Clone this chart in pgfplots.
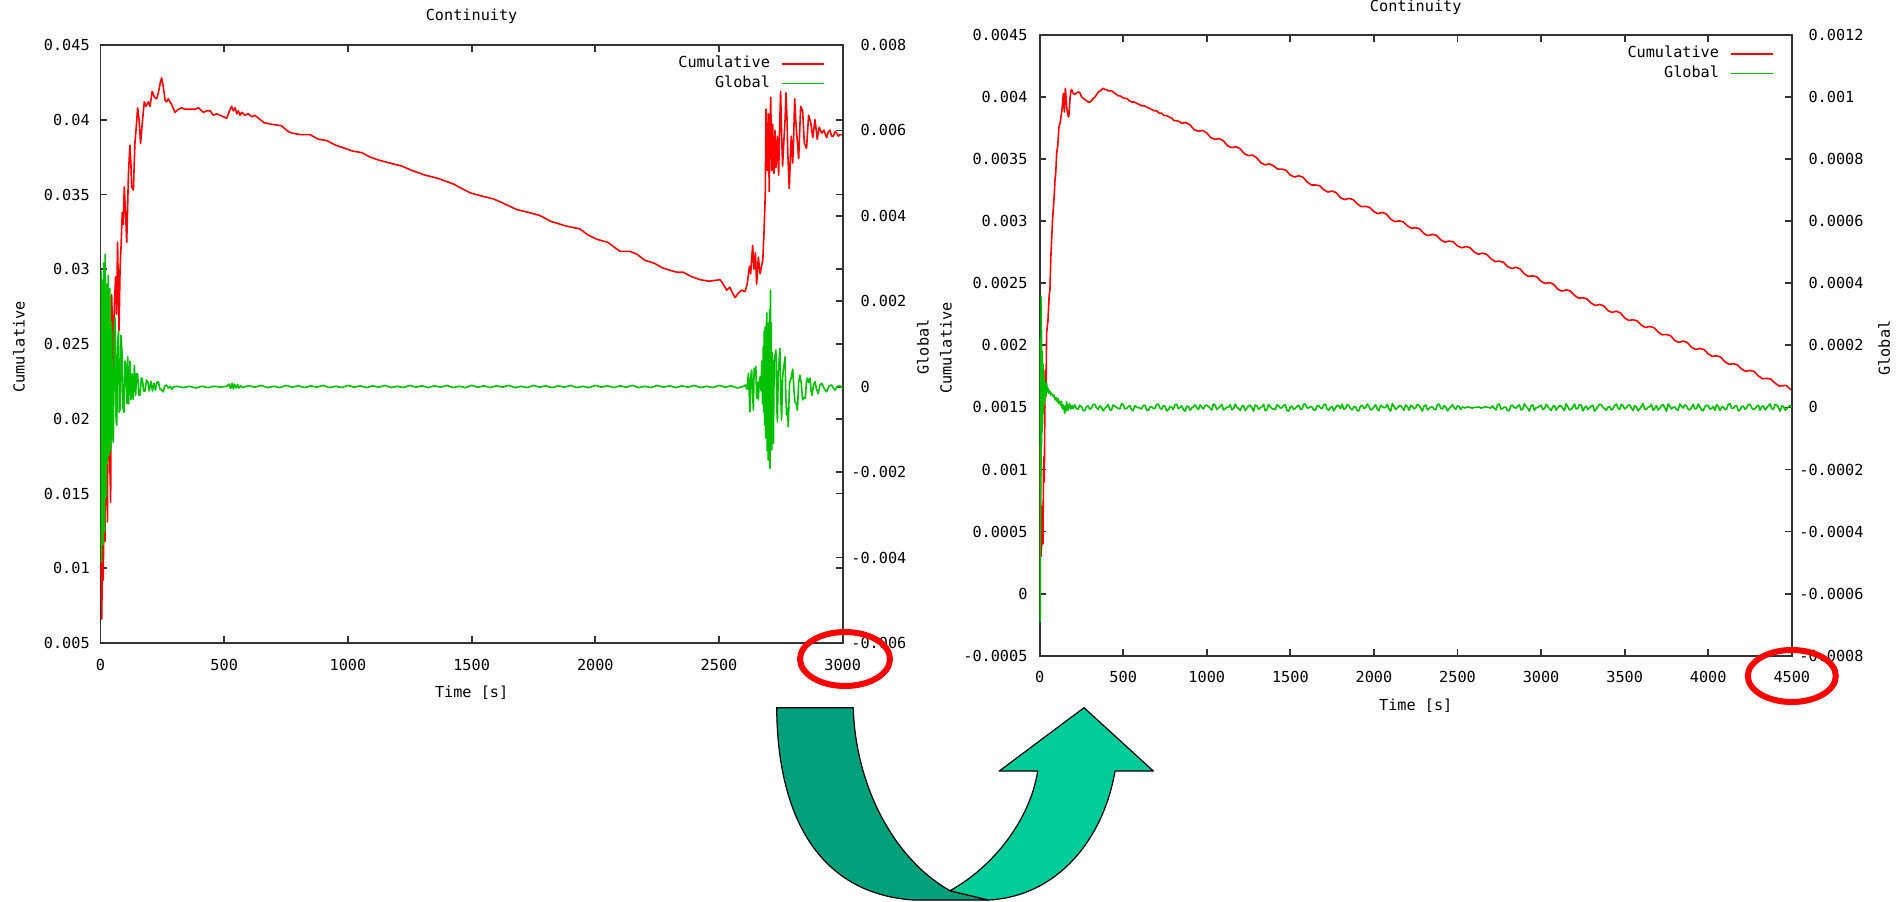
\documentclass[border=0pt]{standalone}
\usepackage{fontspec}
\setmainfont{DejaVu Sans Mono}
\usepackage{pgfplots}
\pgfplotsset{compat=1.18}

\newcommand{\gp}{\fontsize{7.6pt}{9pt}\selectfont}
\definecolor{gpred}{RGB}{255,0,0}
\definecolor{gpgreen}{RGB}{0,192,0}
\definecolor{arrowdark}{RGB}{0,160,122}
\definecolor{arrowlight}{RGB}{0,204,153}

\pgfplotsset{
  gnu/.style={
    scale only axis,
    font=\gp,
    axis line style={black!80, line width=0.9pt},
    tick style={black!80, line width=0.9pt},
    major tick length=3.4pt,
    tick align=inside,
    scaled ticks=false,
    xticklabel style={anchor=center, inner sep=0pt},
  },
  gnuleg/.style={
    legend cell align=right,
    legend plot pos=right,
    legend image code/.code={\draw[##1] (0pt,0pt) -- (21pt,0pt);},
    legend style={draw=none, fill=none, at={(1,1)}, anchor=north east,
      xshift=-9pt, yshift=-5.8pt, font=\gp, row sep=2.6pt, column sep=5.6pt,
      inner sep=0pt, outer sep=0pt,
      nodes={inner sep=0pt, text height=5.6pt, text depth=1.6pt}},
  },
  cum/.style={gpred, line width=0.8pt, line join=round},
  glob/.style={gpgreen, line width=0.8pt, line join=round},
}

\begin{document}
\begin{tikzpicture}
\useasboundingbox (0,0) rectangle (952pt,450.5pt);

% ---------------- left chart: 0..3000 s ----------------
\begin{axis}[gnu,
  at={(50.25pt,129pt)}, anchor=south west,
  width=371.1pt, height=299pt,
  xmin=0, xmax=3000, ymin=0.005, ymax=0.045,
  xtick={0,500,1000,1500,2000,2500,3000},
  xticklabels={0,500,1000,1500,2000,2500,3000},
  ytick={0.005,0.01,0.015,0.02,0.025,0.03,0.035,0.04,0.045},
  yticklabels={0.005,0.01,0.015,0.02,0.025,0.03,0.035,0.04,0.045},
  xticklabel style={yshift=-11pt},
  yticklabel style={anchor=east, inner sep=0pt, xshift=-5.2pt},
  title=Continuity, title style={at={(0.5,1)}, anchor=center, yshift=8.15pt},
  xlabel={Time [s]}, xlabel style={at={(0.5,0)}, anchor=center, yshift=-24.85pt},
  ylabel=Cumulative, ylabel style={at={(-0.1098,0.495)}, anchor=center},
]
\addplot[cum] coordinates {
(0,0.0125) (3,0.0100) (5,0.0066) (7,0.0095) (9,0.0128) (11,0.0092) (14,0.0140) (18,0.0118)
(22,0.0214) (25,0.0175) (28,0.0131) (32,0.0248) (36,0.0185) (41,0.0144) (45,0.0283) (48,0.0265)
(52,0.0230) (56,0.0275) (61,0.0295) (65,0.0270) (69,0.0318) (75,0.0259) (79,0.0300) (83,0.0315)
(88,0.0338) (92,0.0330) (96,0.0355) (102,0.0335) (106,0.0318) (110,0.0344) (113,0.0364) (119,0.0383)
(123,0.0370) (126,0.0355) (133,0.0353) (139,0.0384) (146,0.0398) (150,0.0408) (156,0.0400) (162,0.0384)
(169,0.0398) (177,0.0412) (184,0.0409) (193,0.0412) (200,0.0409) (209,0.0419) (218,0.0415) (227,0.0414)
(234,0.0418) (242,0.0425) (247,0.0428) (254,0.0422) (261,0.0413) (267,0.0412) (274,0.0414) (281,0.0412)
(288,0.0410) (301,0.0405) (315,0.0407) (328,0.0408) (342,0.0407) (355,0.0407) (368,0.0407) (382,0.0407)
(396,0.0408) (409,0.0406) (416,0.0405) (430,0.0406) (443,0.0406) (456,0.0403) (470,0.0404) (483,0.0403)
(497,0.0402) (510,0.0401) (517,0.0404) (524,0.0407) (530,0.0409) (537,0.0406) (544,0.0408) (551,0.0404)
(557,0.0406) (564,0.0403) (571,0.0405) (584,0.0403) (597,0.0404) (611,0.0402) (624,0.0403) (661,0.0398)
(690,0.0397) (731,0.0396) (760,0.0392) (777,0.0391) (810,0.0390) (847,0.0390) (880,0.0387) (916,0.0386)
(950,0.0383) (986,0.0381) (1020,0.0379) (1056,0.0378) (1090,0.0375) (1125,0.0373) (1170,0.0371) (1218,0.0369)
(1260,0.0366) (1311,0.0363) (1360,0.0361) (1427,0.0357) (1460,0.0354) (1496,0.0351) (1540,0.0349) (1589,0.0347)
(1630,0.0344) (1682,0.0340) (1730,0.0338) (1775,0.0336) (1821,0.0332) (1880,0.0329) (1937,0.0327) (1970,0.0323)
(2007,0.0320) (2050,0.0318) (2100,0.0312) (2140,0.0312) (2169,0.0310) (2200,0.0306) (2239,0.0304) (2270,0.0301)
(2308,0.0299) (2330,0.0298) (2355,0.0298) (2390,0.0295) (2424,0.0293) (2460,0.0292) (2504,0.0293) (2517,0.0290)
(2531,0.0286) (2544,0.0288) (2555,0.0284) (2565,0.0281) (2578,0.0284) (2592,0.0286) (2605,0.0285) (2614,0.0290)
(2623,0.0302) (2628,0.0297) (2636,0.0316) (2641,0.0300) (2647,0.0311) (2652,0.0290) (2659,0.0308) (2666,0.0297)
(2672,0.0302) (2677,0.0306) (2682,0.0325) (2687,0.0350) (2690,0.0407) (2693,0.0370) (2695,0.0366) (2699,0.0404)
(2703,0.0352) (2706,0.0395) (2709,0.0415) (2713,0.0366) (2717,0.0397) (2720,0.0370) (2722,0.0364) (2726,0.0393)
(2730,0.0368) (2736,0.0389) (2741,0.0363) (2745,0.0395) (2749,0.0419) (2753,0.0390) (2757,0.0369) (2762,0.0385)
(2767,0.0400) (2771,0.0418) (2775,0.0400) (2778,0.0378) (2784,0.0354) (2788,0.0372) (2792,0.0389) (2798,0.0371)
(2802,0.0390) (2806,0.0414) (2810,0.0400) (2814,0.0391) (2822,0.0374) (2830,0.0409) (2838,0.0406) (2845,0.0384)
(2854,0.0381) (2862,0.0403) (2871,0.0398) (2879,0.0388) (2888,0.0400) (2897,0.0387) (2905,0.0395) (2915,0.0391)
(2924,0.0393) (2935,0.0388) (2942,0.0392) (2949,0.0393) (2955,0.0389) (2962,0.0389) (2969,0.0392) (2976,0.0391)
(2982,0.0389) (2989,0.0390) (3000,0.0390)
};
\end{axis}

\begin{axis}[gnu, gnuleg,
  at={(50.25pt,129pt)}, anchor=south west,
  width=371.1pt, height=299pt,
  xmin=0, xmax=3000, ymin=-0.006, ymax=0.008,
  hide x axis, axis y line*=right, tick align=inside,
  ytick={-0.006,-0.004,-0.002,0,0.002,0.004,0.006,0.008},
  yticklabels={-0.006,-0.004,-0.002,\hphantom{-}0,\hphantom{-}0.002,\hphantom{-}0.004,\hphantom{-}0.006,\hphantom{-}0.008},
  yticklabel style={anchor=west, inner sep=0pt, xshift=4.15pt},
  ylabel=Global, ylabel style={at={(1.1082,0.495)}, anchor=center},
]
\addlegendimage{cum}
\addlegendentry{Cumulative}
\addplot[glob] coordinates {
(0,0.0008) (2,0.0027) (4,-0.0041) (7,0.0025) (10,-0.0037) (13,0.0029) (16,-0.0034) (19,0.0031)
(22,-0.0026) (25,0.0024) (28,-0.0018) (31,0.0026) (35,-0.0016) (38,0.0023) (42,-0.0015) (45,0.0015)
(49,-0.0012) (52,-0.0013) (56,0.0012) (59,0.0016) (63,-0.0008) (66,-0.0009) (69,0.0010) (73,0.0013)
(76,-0.0006) (80,-0.0005) (83,0.0012) (87,0.0008) (91,-0.0005) (95,-0.0006) (99,0.0006) (103,0.0005)
(107,-0.0004) (110,0.0007) (114,-0.0004) (119,0.0006) (123,-0.0003) (128,0.0003) (132,-0.0003) (137,0.0005)
(142,-0.0002) (146,0.0003) (150,0.0003) (155,-0.0002) (160,-0.0002) (165,0.0002) (169,0.0002) (174,-0.0001)
(180,-0.0001) (186,0.00016) (192,0.0001) (197,-0.0001) (204,0.00012) (210,-0.0001) (216,0.00008) (222,-0.00008)
(228,0.0001) (234,0.00012) (240,-0.00005) (247,-0.00008) (254,-0.00012) (260,0.00002) (267,0.00004) (274,-0.00003)
(282,0.00001) (288,-0.00006) (296,0) (310,1e-5) (335,-2e-5) (360,1e-5) (385,-3e-5) (410,1e-5)
(435,-2e-5) (460,1e-5) (485,-1e-5) (510,1e-5) (520,6e-5) (526,-4e-5) (532,8e-5) (537,-5e-5)
(542,6e-5) (548,-3e-5) (554,5e-5) (560,-3e-5) (567,2e-5) (575,-2e-5) (590,1e-5)
(600,2e-5) (625,-1e-5) (650,3e-5) (675,-2e-5) (700,1e-5) (725,-2e-5) (750,3e-5) (775,-1e-5)
(800,2e-5) (825,-2e-5) (850,2e-5) (875,-1e-5) (900,3e-5) (925,-2e-5) (950,1e-5) (975,-2e-5)
(1000,3e-5) (1025,-1e-5) (1050,2e-5) (1075,-2e-5) (1100,2e-5) (1125,-1e-5) (1150,3e-5) (1175,-2e-5)
(1200,1e-5) (1225,-2e-5) (1250,3e-5) (1275,-1e-5) (1300,2e-5) (1325,-2e-5) (1350,2e-5) (1375,-1e-5)
(1400,3e-5) (1425,-2e-5) (1450,1e-5) (1475,-2e-5) (1500,3e-5) (1525,-1e-5) (1550,2e-5) (1575,-2e-5)
(1600,2e-5) (1625,-1e-5) (1650,3e-5) (1675,-2e-5) (1700,1e-5) (1725,-2e-5) (1750,3e-5) (1775,-1e-5)
(1800,2e-5) (1825,-2e-5) (1850,2e-5) (1875,-1e-5) (1900,3e-5) (1925,-2e-5) (1950,1e-5) (1975,-2e-5)
(2000,3e-5) (2025,-1e-5) (2050,2e-5) (2075,-2e-5) (2100,2e-5) (2125,-1e-5) (2150,3e-5) (2175,-2e-5)
(2200,1e-5) (2225,-2e-5) (2250,3e-5) (2275,-1e-5) (2300,2e-5) (2325,-2e-5) (2350,2e-5) (2375,-1e-5)
(2400,3e-5) (2425,-2e-5) (2450,1e-5) (2475,-2e-5) (2500,3e-5) (2525,-1e-5) (2550,2e-5) (2575,-3e-5)
(2600,1e-5) (2607,0.00004) (2613,-0.00006) (2619,0.00031) (2622,-0.00016) (2625,-0.00059) (2628,0.00020) (2632,0.00039)
(2635,-0.00012) (2639,-0.00055) (2642,0.00043) (2645,0.00025) (2649,0.00047) (2652,-0.00027) (2656,0.00010) (2659,-0.00031)
(2663,0.00015) (2666,0.00023) (2670,-0.00010) (2673,0.00060) (2676,-0.00040) (2679,0.00094) (2681,-0.00060) (2683,0.00130)
(2685,-0.00090) (2687,0.00140) (2689,-0.00120) (2691,0.00120) (2693,0.00173) (2695,-0.00150) (2697,0.00100) (2699,-0.00172)
(2701,0.00150) (2703,-0.00130) (2705,0.00180) (2706,-0.00191) (2708,0.00226) (2709,-0.00100) (2711,0.00150) (2713,-0.00148)
(2715,0.00080) (2717,-0.00090) (2720,-0.00133) (2723,0.00060) (2726,0.00070) (2730,0.00086) (2733,-0.00040) (2736,-0.00082)
(2740,0.00050) (2743,0.00060) (2746,0.00090) (2750,-0.00030) (2753,-0.00078) (2757,0.00020) (2760,0.00040) (2764,0.00055)
(2767,0.00070) (2770,-0.00020) (2773,-0.00066) (2777,-0.00050) (2780,-0.00094) (2785,0.00010) (2790,0.00016) (2794,0.00030)
(2798,0.00041) (2803,-0.00010) (2807,-0.00035) (2812,-0.00040) (2817,-0.00055) (2822,0.00010) (2827,0.00027) (2832,0.00010)
(2838,-0.00031) (2844,-0.00025) (2849,-0.00027) (2853,0.00010) (2857,0.00020) (2862,0.00010) (2868,0.00020) (2872,-0.00010)
(2876,-0.00020) (2882,0.00005) (2888,0.00012) (2894,-0.00005) (2901,-0.00016) (2908,0.00004) (2915,0.00008) (2925,-0.00004)
(2935,-0.00012) (2945,0.00002) (2955,0.00004) (2962,-0.00003) (2969,-0.00008) (2979,0.00001) (2989,0.00002) (2995,-0.00001)
(3000,0)
};
\addlegendentry{Global}
\end{axis}

% ---------------- right chart: 0..4500 s ----------------
\begin{axis}[gnu,
  at={(519.8pt,122.65pt)}, anchor=south west,
  width=376.1pt, height=310.35pt,
  xmin=0, xmax=4500, ymin=-0.0005, ymax=0.0045,
  xtick={0,500,1000,1500,2000,2500,3000,3500,4000,4500},
  xticklabels={0,500,1000,1500,2000,2500,3000,3500,4000,4500},
  ytick={-0.0005,0,0.0005,0.001,0.0015,0.002,0.0025,0.003,0.0035,0.004,0.0045},
  yticklabels={-0.0005,0,0.0005,0.001,0.0015,0.002,0.0025,0.003,0.0035,0.004,0.0045},
  xticklabel style={yshift=-10.5pt},
  yticklabel style={anchor=east, inner sep=0pt, xshift=-5.9pt},
  title=Continuity, title style={at={(0.5,1)}, anchor=center, yshift=7.75pt},
  xlabel={Time [s]}, xlabel style={at={(0.5,0)}, anchor=center, yshift=-25.15pt},
  ylabel=Cumulative, ylabel style={at={(-0.1244,0.4957)}, anchor=center},
]
\addplot[cum] coordinates {
(0,0.0012) (5,0.0009) (10,0.0003) (16,0.0007) (20,0.0004) (24,0.0011) (28,0.0009) (33,0.0018)
(38,0.0016) (42,0.0021) (50,0.0022) (57,0.0024) (62,0.00245) (67,0.0027) (72,0.00285) (77,0.0030)
(82,0.0031) (87,0.0032) (92,0.00333) (97,0.0034) (102,0.00355) (108,0.0036) (116,0.00376) (124,0.0038)
(132,0.00388) (138,0.00395) (142,0.00403) (145,0.00395) (148,0.00388) (151,0.0040) (154,0.00407) (158,0.0040)
(162,0.00392) (168,0.00386) (174,0.00384) (178,0.0039) (182,0.00399) (187,0.00405) (192,0.00406) (197,0.00404)
(202,0.00403) (210,0.00402) (218,0.00403) (228,0.00404) (238,0.00404) (245,0.00402) (252,0.0040) (262,0.00399)
(271,0.00398) (281,0.00397) (291,0.00396) (301,0.00396) (311,0.00397) (321,0.00399) (331,0.0040) (341,0.00402)
(351,0.00404) (361,0.00405) (371,0.00406) (381,0.00407) (391,0.00406) (401,0.00406) (411,0.00405) (421,0.00405)
(431,0.00405) (441,0.00404) (451,0.00403) (461,0.00402) (471,0.00401) (481,0.00401) (491,0.0040) (506,0.00399)
(521,0.00399) (536,0.00397) (551,0.00396) (566,0.00396) (581,0.00395) (596,0.00394) (611,0.00393) (626,0.00393)
(640,0.00392) (655,0.00391) (670,0.0039) (685,0.00389) (700,0.00389) (715,0.00387) (730,0.00387) (745,0.00385)
(760,0.00385) (775,0.00384) (790,0.00383) (805,0.00381) (820,0.00381) (840,0.0038)
(850,0.003789) (875,0.003795) (900,0.003775) (925,0.003737) (950,0.003725) (975,0.003731)
(1000,0.003711) (1025,0.003672) (1050,0.003659) (1075,0.003666) (1100,0.003647) (1125,0.003607)
(1150,0.003592) (1175,0.003601) (1200,0.003583) (1225,0.003543) (1250,0.003528) (1275,0.003532)
(1300,0.003509) (1325,0.003469) (1350,0.003454) (1375,0.003463) (1400,0.003445) (1425,0.003420)
(1450,0.003420) (1475,0.003409) (1500,0.003371) (1525,0.003356) (1550,0.003366) (1575,0.003355)
(1600,0.003317) (1625,0.003292) (1650,0.003292) (1675,0.003286) (1700,0.003253) (1725,0.003235)
(1750,0.003243) (1775,0.003229) (1800,0.003189) (1825,0.003174) (1850,0.003184) (1875,0.003175)
(1900,0.003140) (1925,0.003117) (1950,0.003120) (1975,0.003111) (2000,0.003076) (2025,0.003061)
(2050,0.003071) (2075,0.003057) (2100,0.003017) (2125,0.002997) (2150,0.003002) (2175,0.002996)
(2200,0.002963) (2225,0.002943) (2250,0.002948) (2275,0.002937) (2300,0.002899) (2325,0.002884)
(2350,0.002894) (2375,0.002885) (2400,0.002850) (2425,0.002832) (2450,0.002840) (2475,0.002834)
(2500,0.002801) (2525,0.002786) (2550,0.002796) (2575,0.002787) (2600,0.002752) (2625,0.002734)
(2650,0.002742) (2675,0.002733) (2700,0.002698) (2725,0.002675) (2750,0.002678) (2775,0.002669)
(2800,0.002634) (2825,0.002619) (2850,0.002629) (2875,0.002615) (2900,0.002575) (2925,0.002555)
(2950,0.002560) (2975,0.002551) (3000,0.002516) (3025,0.002498) (3050,0.002506) (3075,0.002492)
(3100,0.002452) (3125,0.002437) (3150,0.002447) (3175,0.002438) (3200,0.002403) (3225,0.002380)
(3250,0.002383) (3275,0.002374) (3300,0.002339) (3325,0.002321) (3350,0.002329) (3375,0.002318)
(3400,0.002280) (3425,0.002265) (3450,0.002275) (3475,0.002261) (3500,0.002221) (3525,0.002201)
(3550,0.002206) (3575,0.002197) (3600,0.002162) (3625,0.002144) (3650,0.002152) (3675,0.002143)
(3700,0.002108) (3725,0.002085) (3750,0.002088) (3775,0.002077) (3800,0.002039) (3825,0.002024)
(3850,0.002034) (3875,0.002023) (3900,0.001985) (3925,0.001967) (3950,0.001975) (3975,0.001966)
(4000,0.001931) (4025,0.001911) (4050,0.001916) (4075,0.001905) (4100,0.001867) (4125,0.001847)
(4150,0.001852) (4175,0.001843) (4200,0.001808) (4225,0.001790) (4250,0.001798) (4275,0.001789)
(4300,0.001754) (4325,0.001731) (4350,0.001734) (4375,0.001728) (4400,0.001695) (4425,0.001672)
(4450,0.001675) (4465,0.001678) (4480,0.00166) (4500,0.001638)
};
\end{axis}

\begin{axis}[gnu, gnuleg,
  at={(519.8pt,122.65pt)}, anchor=south west,
  width=376.1pt, height=310.35pt,
  xmin=0, xmax=4500, ymin=-0.0008, ymax=0.0012,
  hide x axis, axis y line*=right, tick align=inside,
  ytick={-0.0008,-0.0006,-0.0004,-0.0002,0,0.0002,0.0004,0.0006,0.0008,0.001,0.0012},
  yticklabels={-0.0008,-0.0006,-0.0004,-0.0002,\hphantom{-}0,\hphantom{-}0.0002,\hphantom{-}0.0004,\hphantom{-}0.0006,\hphantom{-}0.0008,\hphantom{-}0.001,\hphantom{-}0.0012},
  yticklabel style={anchor=west, inner sep=0pt, xshift=3.6pt},
  ylabel=Global, ylabel style={at={(1.1226,0.4957)}, anchor=center},
]
\addlegendimage{cum}
\addlegendentry{Cumulative}
\addplot[glob] coordinates {
(0,0) (1,0.00015) (2,-0.00035) (3,0.00022) (4,-0.00069) (5,0.0001) (6,-0.0004) (8,0.00012)
(9,-0.00022) (10,0.000357) (11,-0.00012) (12,0.00025) (14,-0.00008) (16,0.00018) (18,-0.00005) (20,0.00014)
(22,-0.00002) (24,0.00011) (26,0.00001) (28,0.00009) (30,0.00002) (33,0.00008) (36,0.00003) (39,0.00007)
(42,0.000078) (46,0.00005) (50,0.000062) (54,0.000046) (58,0.000055) (62,0.00005) (66,0.00004) (70,0.000046)
(74,0.000043) (78,0.00004) (82,0.000034) (86,0.00004) (90,0.00003) (94,0.000024) (98,0.000032) (102,0.000024)
(106,0.000018) (110,0.000029) (114,0.000013) (118,0.00002) (122,0.000013) (126,0.000007) (130,0.00002) (134,0.000002)
(138,-0.000005) (142,0.000008) (146,-0.000003) (150,-0.000019) (154,0.000004) (158,-0.000012) (162,0.000018) (166,-0.000002)
(170,-0.000009) (175,0.000007) (180,0.000012) (185,-0.000005) (190,-0.000003) (195,0.000006) (200,-0.000004)
(210,8e-6) (220,-4e-6) (230,-6e-6) (240,7e-6) (250,3e-6) (260,-9e-6) (270,-11e-6) (280,2e-6) (290,5e-6) (300,-6e-6)
(310,-2e-6) (320,10e-6) (330,10e-6) (340,-1e-6) (350,-7e-6) (360,5e-6) (370,1e-6) (380,-11e-6) (390,-4e-6) (400,3e-6)
(410,9e-6) (420,-7e-6) (430,-9e-6) (440,8e-6) (450,4e-6) (460,0) (470,-3e-6) (480,-5e-6) (490,12e-6) (500,9e-6)
(510,-5e-6) (520,-3e-6) (530,2e-6) (540,6e-6) (550,-8e-6) (560,-10e-6) (570,6e-6) (580,1e-6) (590,-1e-6) (600,-2e-6)
(610,-5e-6) (620,6e-6) (630,7e-6) (640,-8e-6) (650,-10e-6) (660,1e-6) (670,2e-6) (680,-4e-6) (690,-3e-6) (700,9e-6)
(710,11e-6) (720,-2e-6) (730,-6e-6) (740,5e-6) (750,4e-6) (760,-11e-6) (770,-8e-6) (780,3e-6) (790,0) (800,-6e-6)
(810,9e-6) (820,10e-6) (830,-4e-6) (840,0) (850,5e-6) (860,-7e-6) (870,-12e-6) (880,4e-6) (890,3e-6) (900,-9e-6)
(910,-2e-6) (920,2e-6) (930,8e-6) (940,-1e-6) (950,-7e-6) (960,8e-6) (970,1e-6) (980,-5e-6) (990,6e-6) (1000,7e-6)
(1010,3e-6) (1020,-2e-6) (1030,-9e-6) (1040,11e-6) (1050,7e-6) (1060,-6e-6) (1070,-2e-6) (1080,3e-6) (1090,10e-6) (1100,-8e-6)
(1110,-5e-6) (1120,1e-6) (1130,0) (1140,9e-6) (1150,-7e-6) (1160,-4e-6) (1170,11e-6) (1180,0) (1190,-3e-6) (1200,-10e-6)
(1210,4e-6) (1220,6e-6) (1230,-10e-6) (1240,-3e-6) (1250,6e-6) (1260,7e-6) (1270,-1e-6) (1280,-12e-6) (1290,8e-6) (1300,5e-6)
(1310,-6e-6) (1320,-1e-6) (1330,2e-6) (1340,10e-6) (1350,-11e-6) (1360,-7e-6) (1370,9e-6) (1380,2e-6) (1390,-4e-6) (1400,-5e-6)
(1410,-7e-6) (1420,8e-6) (1430,5e-6) (1440,-2e-6) (1450,-1e-6) (1460,6e-6) (1470,9e-6) (1480,-10e-6) (1490,-12e-6) (1500,1e-6)
(1510,4e-6) (1520,-7e-6) (1530,-3e-6) (1540,4e-6) (1550,7e-6) (1560,-5e-6) (1570,-6e-6) (1580,11e-6) (1590,10e-6) (1600,-1e-6)
(1610,-2e-6) (1620,3e-6) (1630,1e-6) (1640,-9e-6) (1650,-8e-6) (1660,5e-6) (1670,6e-6) (1680,-2e-6) (1690,-4e-6) (1700,8e-6)
(1710,11e-6) (1720,-6e-6) (1730,-9e-6) (1740,0) (1750,3e-6) (1760,-11e-6) (1770,-1e-6) (1780,7e-6) (1790,5e-6) (1800,-4e-6)
(1810,10e-6) (1820,-6e-6) (1830,-3e-6) (1840,9e-6) (1850,6e-6) (1860,-4e-6) (1870,-8e-6) (1880,2e-6) (1890,2e-6) (1900,-10e-6)
(1910,-11e-6) (1920,5e-6) (1930,7e-6) (1940,-3e-6) (1950,-1e-6) (1960,11e-6) (1970,4e-6) (1980,-8e-6) (1990,-6e-6) (2000,1e-6)
(2010,9e-6) (2020,-5e-6) (2030,-10e-6) (2040,7e-6) (2050,3e-6) (2060,-1e-6) (2070,0) (2080,10e-6) (2090,-5e-6) (2100,-12e-6)
(2110,12e-6) (2120,4e-6) (2130,-7e-6) (2140,-2e-6) (2150,5e-6) (2160,6e-6) (2170,-2e-6) (2180,-9e-6) (2190,8e-6) (2200,3e-6)
(2210,-9e-6) (2220,7e-6) (2230,4e-6) (2240,-5e-6) (2250,-1e-6) (2260,10e-6) (2270,6e-6) (2280,-2e-6) (2290,-12e-6) (2300,4e-6)
(2310,8e-6) (2320,-8e-6) (2330,-3e-6) (2340,1e-6) (2350,2e-6) (2360,-6e-6) (2370,-7e-6) (2380,9e-6) (2390,11e-6) (2400,-3e-6)
(2410,-5e-6) (2420,6e-6) (2430,1e-6) (2440,-11e-6) (2450,-4e-6) (2460,2e-6) (2470,9e-6) (2480,-1e-6) (2490,-6e-6) (2500,5e-6)
(2510,3e-6) (2520,-7e-6) (2530,2e-6) (2540,-1e-6) (2550,-1e-6) (2560,2e-6) (2570,1e-6) (2580,-1e-6) (2590,-2e-6) (2600,0)
(2610,0) (2620,1e-6) (2630,1e-6) (2640,-2e-6) (2650,-1e-6) (2660,1e-6) (2670,2e-6) (2680,0) (2690,-1e-6) (2700,-2e-6)
(2710,5e-6) (2720,-3e-6) (2730,-8e-6) (2740,9e-6) (2750,11e-6) (2760,-6e-6) (2770,-3e-6) (2780,1e-6) (2790,0) (2800,-11e-6)
(2810,-10e-6) (2820,6e-6) (2830,7e-6) (2840,-1e-6) (2850,-2e-6) (2860,4e-6) (2870,9e-6) (2880,-8e-6) (2890,-6e-6) (2900,12e-6)
(2910,3e-6) (2920,-2e-6) (2930,-12e-6) (2940,5e-6) (2950,8e-6) (2960,-9e-6) (2970,-1e-6) (2980,0) (2990,4e-6) (3000,7e-6)
(3010,-7e-6) (3020,-4e-6) (3030,10e-6) (3040,3e-6) (3050,-4e-6) (3060,-10e-6) (3070,2e-6) (3080,6e-6) (3090,-9e-6) (3100,-1e-6)
(3110,6e-6) (3120,4e-6) (3130,-3e-6) (3140,-9e-6) (3150,12e-6) (3160,2e-6) (3170,-8e-6) (3180,-6e-6) (3190,1e-6) (3200,11e-6)
(3210,-5e-6) (3220,-3e-6) (3230,9e-6) (3240,8e-6) (3250,-11e-6) (3260,-1e-6) (3270,4e-6) (3280,-7e-6) (3290,-2e-6) (3300,5e-6)
(3310,7e-6) (3320,-12e-6) (3330,-6e-6) (3340,3e-6) (3350,10e-6) (3360,9e-6) (3370,0) (3380,-4e-6) (3390,-9e-6) (3400,1e-6)
(3410,3e-6) (3420,-8e-6) (3430,-4e-6) (3440,6e-6) (3450,11e-6) (3460,-2e-6) (3470,-7e-6) (3480,10e-6) (3490,5e-6) (3500,-5e-6)
(3510,-1e-6) (3520,7e-6) (3530,8e-6) (3540,-2e-6) (3550,-10e-6) (3560,5e-6) (3570,3e-6) (3580,-11e-6) (3590,-5e-6) (3600,4e-6)
(3610,12e-6) (3620,-6e-6) (3630,-6e-6) (3640,1e-6) (3650,2e-6) (3660,10e-6) (3670,-9e-6) (3680,-3e-6) (3690,6e-6) (3700,-8e-6)
(3710,-3e-6) (3720,6e-6) (3730,9e-6) (3740,-1e-6) (3750,-12e-6) (3760,11e-6) (3770,4e-6) (3780,-5e-6) (3790,0) (3800,2e-6)
(3810,-7e-6) (3820,-9e-6) (3830,11e-6) (3840,4e-6) (3850,-2e-6) (3860,8e-6) (3870,5e-6) (3880,-6e-6) (3890,-8e-6) (3900,0)
(3910,10e-6) (3920,-5e-6) (3930,-4e-6) (3940,11e-6) (3950,1e-6) (3960,-8e-6) (3970,-11e-6) (3980,2e-6) (3990,7e-6) (4000,6e-6)
(4010,-6e-6) (4020,-3e-6) (4030,3e-6) (4040,-9e-6) (4050,9e-6) (4060,4e-6) (4070,-10e-6) (4080,1e-6) (4090,2e-6) (4100,-7e-6)
(4110,-5e-6) (4120,10e-6) (4130,12e-6) (4140,-2e-6) (4150,-3e-6) (4160,5e-6) (4170,6e-6) (4180,-11e-6) (4190,-8e-6) (4200,3e-6)
(4210,4e-6) (4220,-6e-6) (4230,-1e-6) (4240,9e-6) (4250,10e-6) (4260,-1e-6) (4270,-7e-6) (4280,-4e-6) (4290,3e-6) (4300,7e-6)
(4310,-9e-6) (4320,3e-6) (4330,5e-6) (4340,-8e-6) (4350,-2e-6) (4360,6e-6) (4370,11e-6) (4380,-4e-6) (4390,-6e-6) (4400,10e-6)
(4410,8e-6) (4420,-1e-6) (4430,-12e-6) (4440,5e-6) (4450,3e-6) (4460,-9e-6) (4470,-4e-6) (4480,2e-6) (4490,6e-6) (4500,0)
};
\addlegendentry{Global}
\end{axis}

% ---------------- annotations (pixel coordinates, origin top left) ----------------
\begin{scope}[x=0.5pt, y=-0.5pt, yshift=450.5pt]
  \draw[red, line width=3pt] (845,659) ellipse [x radius=22.5pt, y radius=13.5pt];
  \draw[red, line width=3pt] (1791.8,676) ellipse [x radius=22pt, y radius=13pt];
  \filldraw[fill=arrowdark, draw=black, line width=0.6pt, line join=round]
    (776.7,707.7) -- (853.3,707.7)
    .. controls (855,780) and (890,856.7) .. (950,890.7)
    -- (988.3,900) -- (913.3,900)
    .. controls (816.7,893.3) and (777.3,813.3) .. cycle;
  \filldraw[fill=arrowlight, draw=black, line width=0.6pt, line join=round]
    (950,890.7) .. controls (993.3,866.7) and (1030,820) .. (1037.7,771)
    -- (999.3,771) -- (1084,707.7) -- (1153.3,771) -- (1115,771)
    .. controls (1103.3,840) and (1056.7,896.7) .. (988.3,900) -- cycle;
\end{scope}
\end{tikzpicture}
\end{document}
